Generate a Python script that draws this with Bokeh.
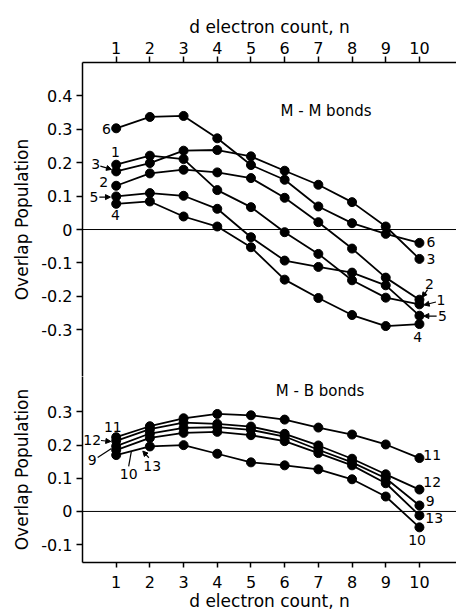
from bokeh.plotting import figure
from bokeh.layouts import column
from bokeh.models import (Range1d, FixedTicker, CustomJSTickFormatter, Span,
                          Label, Arrow, NormalHead)
from bokeh.embed import file_html
from bokeh.resources import INLINE

# ---------------- data ----------------
n = [1, 2, 3, 4, 5, 6, 7, 8, 9, 10]

# M-M bonds (upper panel)
mm1 = [0.194, 0.221, 0.211, 0.118, 0.067, -0.008, -0.073, -0.152, -0.204, -0.224]
mm2 = [0.131, 0.168, 0.179, 0.171, 0.154, 0.095, 0.022, -0.057, -0.144, -0.210]
mm3 = [0.174, 0.199, 0.236, 0.238, 0.219, 0.176, 0.134, 0.082, 0.009, -0.088]
mm4 = [0.077, 0.084, 0.039, 0.009, -0.053, -0.150, -0.205, -0.256, -0.289, -0.283]
mm5 = [0.099, 0.109, 0.101, 0.062, -0.023, -0.093, -0.112, -0.129, -0.167, -0.258]
mm6 = [0.303, 0.337, 0.340, 0.273, 0.193, 0.149, 0.069, 0.019, -0.013, -0.040]

# M-B bonds (lower panel)
mb9 = [0.197, 0.235, 0.252, 0.254, 0.246, 0.226, 0.186, 0.148, 0.100, 0.018]
mb10 = [0.170, 0.196, 0.200, 0.174, 0.148, 0.139, 0.127, 0.097, 0.045, -0.048]
mb11 = [0.224, 0.257, 0.281, 0.294, 0.290, 0.277, 0.253, 0.232, 0.202, 0.161]
mb12 = [0.213, 0.248, 0.268, 0.264, 0.256, 0.234, 0.199, 0.159, 0.112, 0.066]
mb13 = [0.185, 0.222, 0.237, 0.240, 0.230, 0.212, 0.176, 0.139, 0.085, -0.012]

x_ticks = [1, 2, 3, 4, 5, 6, 7, 8, 9, 10]
y_ticks_top = [-0.3, -0.2, -0.1, 0, 0.1, 0.2, 0.3, 0.4]
y_ticks_bottom = [-0.1, 0, 0.1, 0.2, 0.3]

x_title = "d electron count, n"
y_title = "Overlap Population"

FONT = "DejaVu Sans"
INK = "black"

fmt_code = "return Math.abs(tick) < 1e-9 ? '0' : tick.toFixed(1);"


def style_axes(p, yticks):
    for ax in p.xaxis:
        ax.ticker = FixedTicker(ticks=x_ticks)
        ax.major_label_text_font = FONT
        ax.major_label_text_font_size = "16px"
        ax.major_label_text_color = INK
        ax.axis_label = x_title
        ax.axis_label_text_font = FONT
        ax.axis_label_text_font_size = "17px"
        ax.axis_label_text_font_style = "normal"
        ax.axis_label_text_color = INK
        ax.axis_line_width = 1.5
        ax.axis_line_color = INK
        ax.major_tick_line_width = 1.5
        ax.major_tick_line_color = INK
        ax.major_tick_out = 6
        ax.major_tick_in = 0
        ax.minor_tick_line_color = None
        ax.major_label_standoff = 3
        ax.axis_label_standoff = 2
    for ax in p.yaxis:
        ax.ticker = FixedTicker(ticks=yticks)
        ax.formatter = CustomJSTickFormatter(code=fmt_code)
        ax.major_label_text_font = FONT
        ax.major_label_text_font_size = "16px"
        ax.major_label_text_color = INK
        ax.axis_label = y_title
        ax.axis_label_text_font = FONT
        ax.axis_label_text_font_size = "17px"
        ax.axis_label_text_font_style = "normal"
        ax.axis_label_text_color = INK
        ax.axis_line_width = 1.5
        ax.axis_line_color = INK
        ax.major_tick_line_width = 1.5
        ax.major_tick_line_color = INK
        ax.major_tick_out = 6
        ax.major_tick_in = 0
        ax.minor_tick_line_color = None
        ax.major_label_standoff = 4
        ax.axis_label_standoff = 6
    p.xgrid.visible = False
    p.ygrid.visible = False
    p.outline_line_color = None
    p.background_fill_color = "white"
    p.border_fill_color = "white"
    p.add_layout(Span(location=0, dimension="width", line_color=INK, line_width=1))


def draw_series(p, ys):
    p.line(n, ys, line_color=INK, line_width=1.8)
    p.scatter(n, ys, size=9, fill_color=INK, line_color=INK)


def lab(p, x, y, t, size="14px", align="center"):
    p.add_layout(Label(x=x, y=y, text=t, text_font=FONT, text_font_size=size,
                       text_color=INK, text_align=align, text_baseline="middle"))


def arr(p, x0, y0, x1, y1):
    p.add_layout(Arrow(end=NormalHead(size=5, fill_color=INK, line_color=INK),
                       x_start=x0, y_start=y0, x_end=x1, y_end=y1,
                       line_color=INK, line_width=1.2))


# ---------------- upper panel ----------------
p1 = figure(frame_width=374, frame_height=314,
            x_range=Range1d(0, 11.1), y_range=Range1d(-0.44, 0.5),
            x_axis_location="above", output_backend="svg", toolbar_location=None,
            min_border_left=82, min_border_right=0, min_border_top=62,
            min_border_bottom=0)
style_axes(p1, y_ticks_top)
for s in (mm1, mm2, mm3, mm4, mm5, mm6):
    draw_series(p1, s)

lab(p1, 0.71, 0.300, "6")
lab(p1, 0.98, 0.232, "1")
lab(p1, 0.39, 0.196, "3")
arr(p1, 0.53, 0.190, 0.86, 0.180)
lab(p1, 0.63, 0.141, "2")
lab(p1, 0.34, 0.097, "5")
arr(p1, 0.50, 0.097, 0.83, 0.097)
lab(p1, 0.98, 0.042, "4")

lab(p1, 10.34, -0.038, "6")
lab(p1, 10.34, -0.087, "3")
lab(p1, 10.30, -0.162, "2")
arr(p1, 10.24, -0.180, 10.08, -0.203)
lab(p1, 10.64, -0.212, "1")
arr(p1, 10.49, -0.217, 10.14, -0.226)
lab(p1, 10.68, -0.259, "5")
arr(p1, 10.51, -0.259, 10.13, -0.259)
lab(p1, 9.95, -0.323, "4")

lab(p1, 7.3, 0.355, "M - M  bonds", size="15px")

# ---------------- lower panel ----------------
p2 = figure(frame_width=374, frame_height=186,
            x_range=Range1d(0, 11.1), y_range=Range1d(-0.154, 0.407),
            x_axis_location="below", output_backend="svg", toolbar_location=None,
            min_border_left=82, min_border_right=0, min_border_top=0,
            min_border_bottom=40)
style_axes(p2, y_ticks_bottom)
for ax in p2.xaxis:
    ax.major_tick_out = 5
    ax.major_label_standoff = 8
    ax.axis_label_standoff = 0
for s in (mb9, mb10, mb11, mb12, mb13):
    draw_series(p2, s)

lab(p2, 0.90, 0.255, "11")
lab(p2, 0.29, 0.216, "12")
arr(p2, 0.55, 0.214, 0.84, 0.211)
lab(p2, 0.29, 0.154, "9")
p2.line([0.45, 0.86], [0.163, 0.190], line_color=INK, line_width=1.2)
lab(p2, 1.37, 0.112, "10")
p2.line([1.37, 1.45], [0.136, 0.181], line_color=INK, line_width=1.2)
lab(p2, 2.07, 0.137, "13")
arr(p2, 1.97, 0.162, 1.79, 0.182)

lab(p2, 10.38, 0.169, "11")
lab(p2, 10.38, 0.090, "12")
lab(p2, 10.32, 0.030, "9")
lab(p2, 10.44, -0.021, "13")
lab(p2, 9.93, -0.087, "10")

lab(p2, 7.12, 0.364, "M - B  bonds", size="15px")

layout = column(p1, p2, spacing=0)

with open("out.html", "w") as f:
    f.write(file_html(layout, INLINE))
